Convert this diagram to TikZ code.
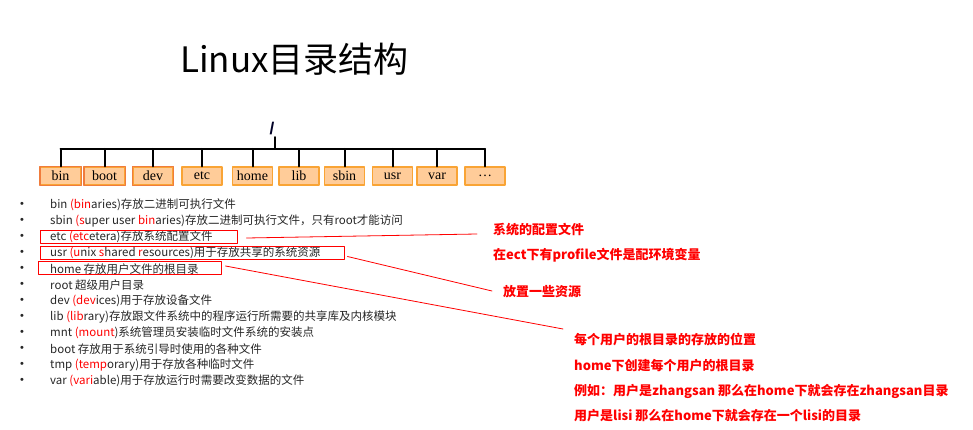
\documentclass[tikz,border=0pt]{standalone}
\usepackage{fontspec}
\setmainfont{Noto Sans CJK SC}
\newfontfamily\boxfont{Liberation Serif}
\newfontfamily\symfont{Liberation Sans}
\newcommand{\rd}[1]{\textcolor{red}{#1}}
\definecolor{boxfill}{HTML}{FFCC99}
\definecolor{boxdark}{HTML}{F07C3C}
\definecolor{boxlight}{HTML}{F9A435}
\definecolor{listtext}{HTML}{262626}
\begin{document}
\begin{tikzpicture}[x=1pt, y=-1pt, line join=round, line cap=round,
  dirbox/.style={draw=boxlight, line width=1.2pt, fill=boxfill, minimum width=40pt, minimum height=18pt, inner sep=1pt, font=\boxfont\fontsize{14}{14}\selectfont},
  item/.style={anchor=west, inner sep=0pt, text=listtext, font=\fontsize{11.5}{12}\selectfont},
  hlbox/.style={draw=red, line width=1pt, inner sep=0pt},
  note/.style={anchor=west, inner sep=0pt, text=red, font=\fontsize{13}{14}\selectfont\bfseries},
  noteline/.style={red, line width=.8pt}]
\useasboundingbox (0,0) rectangle (973,430);
% title
\node[anchor=west, inner sep=0pt, font=\fontsize{35}{36}\selectfont] (title) at (180,59) {Linux目录结构};
% tree
\node[inner sep=1.5pt, font=\symfont\fontsize{17}{17}\selectfont\bfseries, text=black!85!blue] (root) at (272,129) {/};
\coordinate (bar) at (275,149);
\foreach \t/\x [count=\i] in {bin/60.5,boot/104.5,dev/153,etc/202,home/252.5,lib/299,sbin/344.5,usr/392.5,var/437,{\ldots}/485}
  \node[dirbox] (d\i) at (\x,176) {\t};
\foreach \i in {1,2,3}
  \draw[boxdark, line width=1.2pt] (d\i.south west) rectangle (d\i.north east);
\draw[line width=2pt] (root.south -| bar) -- (bar);
\draw[line width=2pt] (d1.north |- bar) -- (d10.north |- bar);
\foreach \i in {1,...,10}
  \draw[line width=2pt] (d\i.north) -- (d\i.north |- bar);
% list
\foreach \y in {205,221,...,381}
  \node[item, font=\symfont\fontsize{11}{11}\selectfont] at (20,\y) {•};
\node[item] (l1) at (50,205) {bin \rd{(bin}aries)存放二进制可执行文件};
\node[item] (l2) at (50,221) {sbin \rd{(s}uper user \rd{bin}aries)存放二进制可执行文件，只有root才能访问};
\node[item] (l3) at (50,237) {etc \rd{(etc}etera)存放系统配置文件};
\node[item] (l4) at (50,253) {usr \rd{(u}nix \rd{s}hared \rd{r}esources)用于存放共享的系统资源};
\node[item] (l5) at (50,269) {home 存放用户文件的根目录};
\node[item] (l6) at (50,285) {root 超级用户目录};
\node[item] (l7) at (50,301) {dev \rd{(dev}ices)用于存放设备文件};
\node[item] (l8) at (50,317) {lib \rd{(lib}rary)存放跟文件系统中的程序运行所需要的共享库及内核模块};
\node[item] (l9) at (50,333) {mnt \rd{(mount})系统管理员安装临时文件系统的安装点};
\node[item] (l10) at (50,349) {boot 存放用于系统引导时使用的各种文件};
\node[item] (l11) at (50,365) {tmp \rd{(temp}orary)用于存放各种临时文件};
\node[item] (l12) at (50,381) {var \rd{(vari}able)用于存放运行时需要改变数据的文件};
% red frames
\node[hlbox, minimum width=197pt, minimum height=13pt] (hetc) at (138.5,236.5) {};
\node[hlbox, minimum width=304pt, minimum height=13pt] (husr) at (192,252.5) {};
\node[hlbox, minimum width=183pt, minimum height=13pt] (hhome) at (129.5,268) {};
% notes
\node[note] (n1) at (493,230) {系统的配置文件};
\node[note] (n2) at (493,255) {在ect下有profile文件是配环境变量};
\node[note] (n3) at (503,292) {放置一些资源};
\node[note] (n4) at (574,339) {每个用户的根目录的存放的位置};
\node[note] (n5) at (574,366) {home下创建每个用户的根目录};
\node[note] (n6) at (574,391) {例如：用户是zhangsan 那么在home下就会存在zhangsan目录};
\node[note] (n7) at (574,416) {用户是lisi 那么在home下就会存在一个lisi的目录};
\coordinate (e1) at (477,234);
\coordinate (e2) at (492,291);
\coordinate (e3) at (563,329);
\draw[noteline] ([xshift=9pt,yshift=-1.5pt]hetc.east) -- (e1);
\draw[noteline] ([xshift=3pt,yshift=-4pt]husr.east) -- (e2);
\draw[noteline] ([xshift=4pt,yshift=2pt]hhome.east) -- (e3);
\end{tikzpicture}
\end{document}
